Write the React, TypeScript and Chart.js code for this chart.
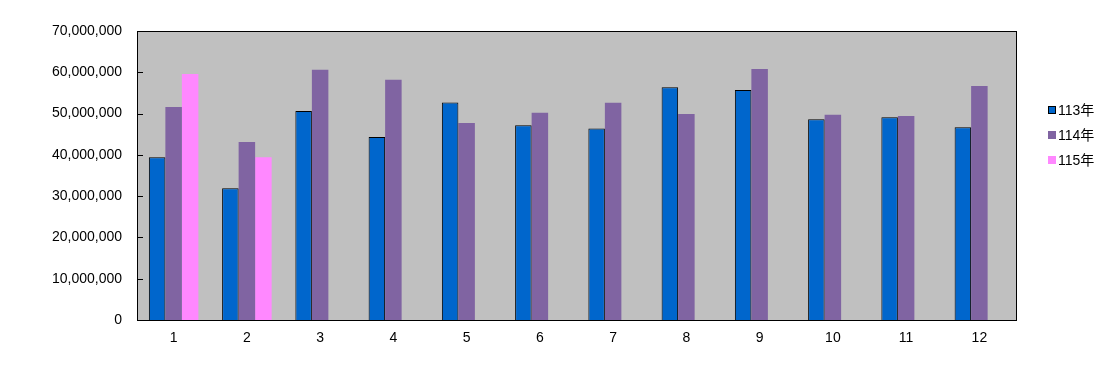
import React, { useEffect, useRef } from "react";
import { Chart, registerables } from "chart.js";

Chart.register(...registerables);

const months = ["1", "2", "3", "4", "5", "6", "7", "8", "9", "10", "11", "12"];
const seriesNames = ["113年", "114年", "115年"];
const values113 = [39400000, 31900000, 50600000, 44300000, 52700000, 47200000, 46400000, 56400000, 55700000, 48600000, 49100000, 46700000];
const values114 = [51600000, 43100000, 60600000, 58200000, 47700000, 50200000, 52600000, 49900000, 60800000, 49700000, 49400000, 56700000];
const values115 = [59600000, 39400000, null, null, null, null, null, null, null, null, null, null];
const seriesColors = ["#0066CC", "#8064A2", "#FF88FF"];
const yTicks = [0, 10000000, 20000000, 30000000, 40000000, 50000000, 60000000, 70000000];

const FONT = '"Liberation Sans", Arial, "Noto Sans CJK TC", sans-serif';

const plotDecor = {
  id: "plotDecor",
  beforeDatasetsDraw(chart: any) {
    const { ctx, chartArea } = chart;
    ctx.save();
    ctx.fillStyle = "#C0C0C0";
    ctx.fillRect(chartArea.left, chartArea.top, chartArea.right - chartArea.left, chartArea.bottom - chartArea.top);
    ctx.restore();
  },
  afterDatasetsDraw(chart: any) {
    const { ctx, chartArea } = chart;
    const y = chart.scales.y;
    ctx.save();
    ctx.strokeStyle = "#000";
    ctx.lineWidth = 1;
    ctx.strokeRect(Math.round(chartArea.left) + 0.5, Math.round(chartArea.top) + 0.5, Math.round(chartArea.right - chartArea.left), Math.round(chartArea.bottom - chartArea.top));
    ctx.beginPath();
    for (const v of yTicks) {
      const py = Math.round(y.getPixelForValue(v)) + 0.5;
      ctx.moveTo(Math.round(chartArea.left), py);
      ctx.lineTo(Math.round(chartArea.left) + 6, py);
    }
    ctx.stroke();
    // legend
    const lx = 1048;
    const ly = [110, 135, 160];
    ctx.font = "14px " + FONT;
    ctx.textBaseline = "middle";
    ctx.textAlign = "left";
    chart.data.datasets.forEach((ds: any, i: number) => {
      ctx.fillStyle = ds.backgroundColor;
      ctx.fillRect(lx, ly[i] - 4, 8, 8);
      if (ds.borderWidth) {
        ctx.strokeStyle = "#000";
        ctx.strokeRect(lx + 0.5, ly[i] - 3.5, 7, 7);
      }
      ctx.fillStyle = "#000";
      ctx.fillText(ds.label, lx + 10, ly[i] + 1);
    });
    ctx.restore();
  },
};

export default function App() {
  const ref = useRef<HTMLCanvasElement>(null);
  useEffect(() => {
    const chart = new Chart(ref.current!, {
      type: "bar",
      data: {
        labels: months,
        datasets: [
          { label: seriesNames[0], data: values113, backgroundColor: seriesColors[0], borderColor: "#000", borderWidth: 1 },
          { label: seriesNames[1], data: values114, backgroundColor: seriesColors[1], borderWidth: 0 },
          { label: seriesNames[2], data: values115 as any, backgroundColor: seriesColors[2], borderWidth: 0 },
        ],
      },
      options: {
        animation: false,
        responsive: false,
        maintainAspectRatio: false,
        layout: { padding: { left: 0, right: 101, top: 31, bottom: 0 } },
        datasets: { bar: { categoryPercentage: 0.676, barPercentage: 1 } },
        plugins: { legend: { display: false }, tooltip: { enabled: false } },
        scales: {
          x: {
            afterFit: (s: any) => { s.height = 47; },
            grid: { display: false, drawTicks: false },
            border: { display: false },
            ticks: { color: "#000", font: { family: FONT, size: 14 }, padding: 10, maxRotation: 0 },
          },
          y: {
            min: 0,
            max: 70000000,
            afterFit: (s: any) => { s.width = 137; },
            afterBuildTicks: (s: any) => { s.ticks = yTicks.map((v) => ({ value: v })); },
            grid: { display: false, drawTicks: false },
            border: { display: false },
            ticks: {
              color: "#000",
              font: { family: FONT, size: 14 },
              padding: 15,
              callback: (v: any) => Number(v).toLocaleString("en-US"),
            },
          },
        },
      },
      plugins: [plotDecor],
    });
    return () => chart.destroy();
  }, []);
  return (
    <div style={{ position: "fixed", left: 0, top: 0, width: 1117, height: 367, background: "#fff" }}>
      <canvas ref={ref} width={1117} height={367} />
    </div>
  );
}
